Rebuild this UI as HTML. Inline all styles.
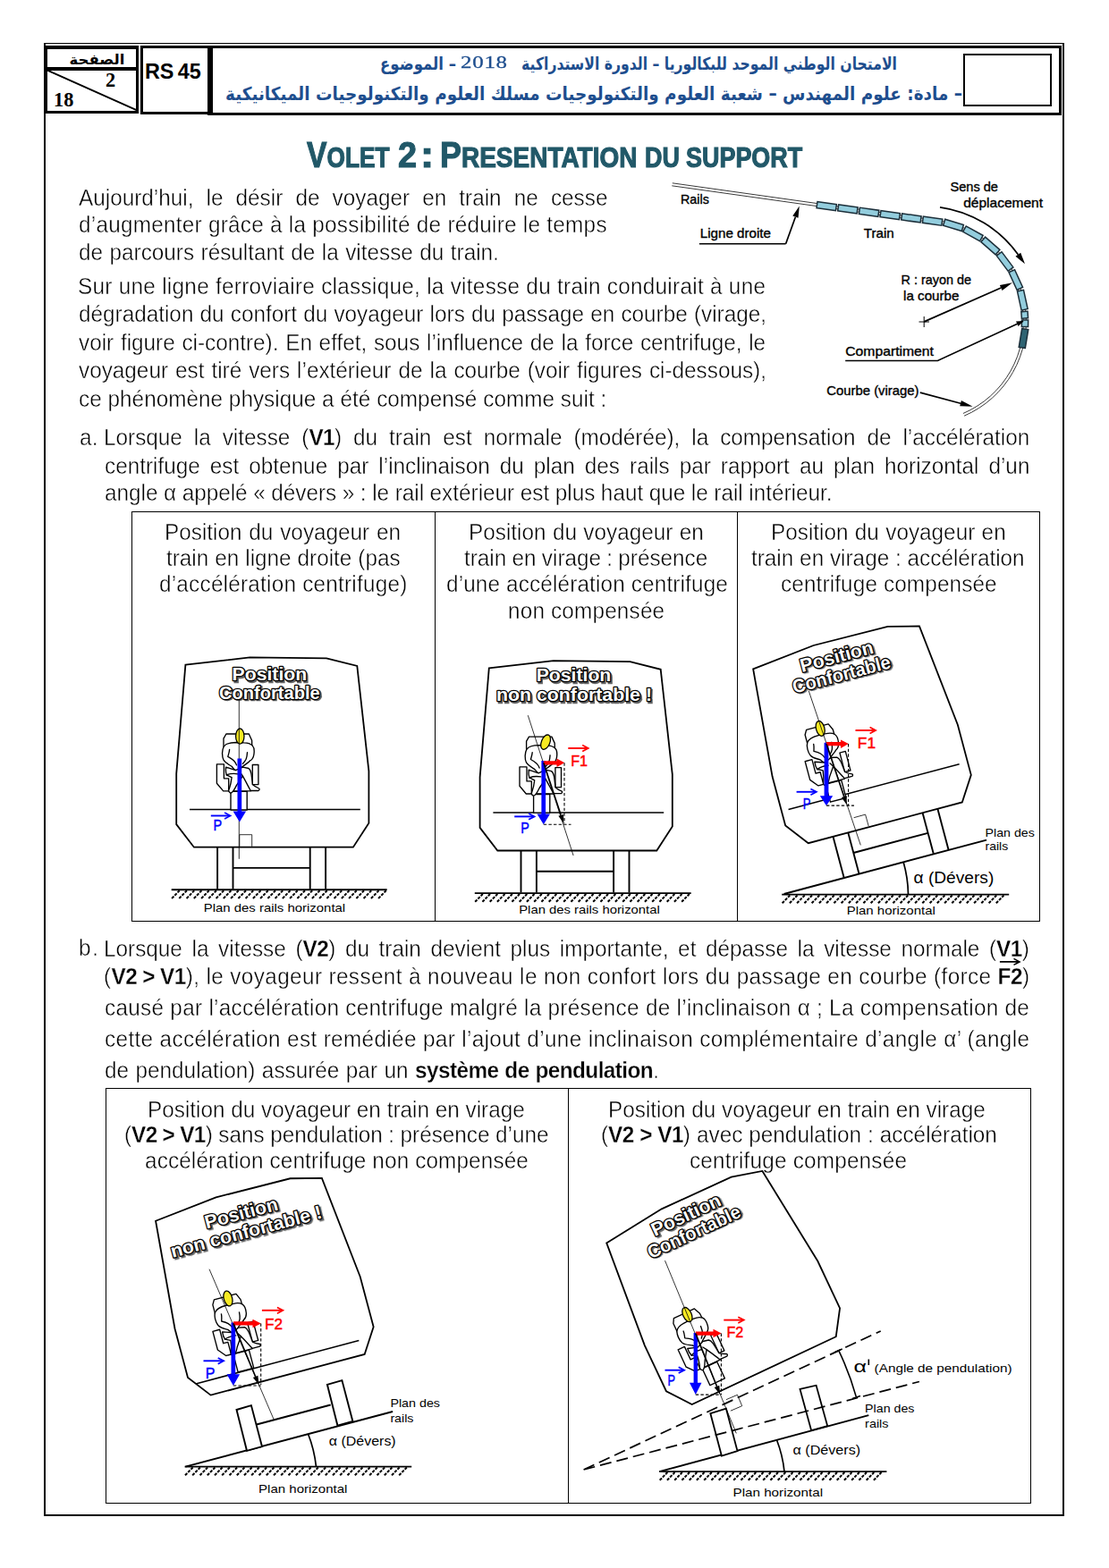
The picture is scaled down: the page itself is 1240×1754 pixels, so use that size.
<!DOCTYPE html>
<html lang="fr"><head><meta charset="utf-8"><title>Volet 2 : Présentation du support</title>
<style>
html,body{margin:0;padding:0;background:#fff}
body{width:1240px;height:1754px;position:relative;overflow:hidden;font-family:"Liberation Sans",sans-serif;color:#000}
.t{position:absolute;white-space:nowrap;line-height:30px;height:30px;color:#000;-webkit-text-stroke:0.45px #fff;transform-origin:0 0;transform:scaleX(0.935)}
.t b{font-weight:700;letter-spacing:-0.6px;-webkit-text-stroke:0.3px #fff}
.bx{position:absolute;box-sizing:border-box;border:solid #000}
.ln{position:absolute;background:#000}
svg{position:absolute;left:0;top:0;overflow:visible}
svg text{font-family:"Liberation Sans",sans-serif}
svg text.ar{font-family:"DejaVu Sans","Liberation Sans",sans-serif;font-weight:700;direction:rtl;unicode-bidi:embed}
.tw{position:absolute;top:150px;height:44px;line-height:44px;white-space:nowrap;color:#215868;font-weight:700;font-size:31.6px;-webkit-text-stroke:1.1px #215868;transform-origin:0 0}.tw .C{font-size:40.5px}</style></head>
<body>
<div class="bx" style="left:48.5px;top:48px;width:1141.5px;height:1648.3px;border-width:1.6px 2px 2.3px 2px"></div>
<!-- header boxes -->
<div class="bx" style="left:48.7px;top:50.6px;width:106.6px;height:28.3px;border-width:4px 3.4px 3.7px 4.5px"></div>
<div class="bx" style="left:48.7px;top:75.2px;width:106.6px;height:51.6px;border-width:3.7px 3.4px 3.9px 4.5px"></div>
<div class="bx" style="left:156.5px;top:50.6px;width:81px;height:77.5px;border-width:3.3px 5.2px 3.3px 3.2px"></div>
<div class="bx" style="left:232.3px;top:50.5px;width:954.6px;height:78px;border-width:3.2px 3.6px 3.3px 5.2px"></div>
<div class="bx" style="left:1077.3px;top:60px;width:98.7px;height:59.1px;border-width:2px"></div>
<div style="position:absolute;left:161.9px;top:67.9px;font-weight:700;font-size:23.4px;line-height:24px;letter-spacing:-0.1px;word-spacing:-1.8px;white-space:nowrap">RS 45</div>
<div style="position:absolute;left:117.9px;top:77.5px;font-family:'Liberation Serif',serif;font-weight:700;font-size:22.3px;line-height:24px;white-space:nowrap">2</div>
<div style="position:absolute;left:60px;top:99.5px;font-family:'Liberation Serif',serif;font-weight:700;font-size:22.3px;line-height:24px;white-space:nowrap">18</div>
<div style="position:absolute;left:514.8px;top:57.6px;font-family:'Liberation Serif',serif;font-size:19.6px;line-height:24px;letter-spacing:0.6px;color:#1e4e8e;white-space:nowrap;transform-origin:0 0;transform:scaleX(1.27);-webkit-text-stroke:0.3px #1e4e8e">2018</div>

<div class="tw" style="left:343.30px;top:150.5px;transform:scaleX(0.8312)"><span class="C">V</span>OLET</div><div class="tw" style="left:444.90px;top:150.5px;transform:scaleX(0.9351)"><span class="C">2</span></div><div class="tw" style="left:470.30px;top:150.5px;transform:scaleX(1.1250)"><span class="C">:</span></div><div class="tw" style="left:491.70px;top:150.5px;transform:scaleX(0.8860)"><span class="C">P</span>RESENTATION</div><div class="tw" style="left:720.90px;top:153.6px;transform:scaleX(0.8525)">DU</div><div class="tw" style="left:767.30px;top:153.6px;transform:scaleX(0.8526)">SUPPORT</div>
<div class="t" style="left:88.0px;top:206.09px;font-size:26.0px;letter-spacing:0.000px;word-spacing:7.885px">Aujourd’hui, le désir de voyager en train ne cesse</div>
<div class="t" style="left:88.0px;top:236.29px;font-size:26.0px;letter-spacing:0.273px;word-spacing:0.000px">d’augmenter grâce à la possibilité de réduire le temps</div>
<div class="t" style="left:88.0px;top:266.79px;font-size:26.0px;letter-spacing:0.000px;word-spacing:0.768px">de parcours résultant de la vitesse du train.</div>
<div class="t" style="left:87.1px;top:304.99px;font-size:26.0px;letter-spacing:0.302px;word-spacing:0.000px">Sur une ligne ferroviaire classique, la vitesse du train conduirait à une</div>
<div class="t" style="left:88.0px;top:336.49px;font-size:26.0px;letter-spacing:0.000px;word-spacing:0.434px">dégradation du confort du voyageur lors du passage en courbe (virage,</div>
<div class="t" style="left:88.0px;top:368.19px;font-size:26.0px;letter-spacing:0.000px;word-spacing:1.019px">voir figure ci-contre). En effet, sous l’influence de la force centrifuge, le</div>
<div class="t" style="left:88.0px;top:399.19px;font-size:26.0px;letter-spacing:0.000px;word-spacing:1.320px">voyageur est tiré vers l’extérieur de la courbe (voir figures ci-dessous),</div>
<div class="t" style="left:88.0px;top:430.69px;font-size:26.0px;letter-spacing:0.000px;word-spacing:0.150px">ce phénomène physique a été compensé comme suit :</div>
<div class="t" style="left:88.5px;top:474.49px;font-size:26.0px;letter-spacing:0.280px;word-spacing:0.000px">a.</div>
<div class="t" style="left:115.9px;top:474.49px;font-size:26.0px;letter-spacing:0.000px;word-spacing:6.625px">Lorsque la vitesse (<b>V1</b>) du train est normale (modérée), la compensation de l’accélération</div>
<div class="t" style="left:116.8px;top:505.99px;font-size:26.0px;letter-spacing:0.000px;word-spacing:4.587px">centrifuge est obtenue par l’inclinaison du plan des rails par rapport au plan horizontal d’un</div>
<div class="t" style="left:116.8px;top:535.89px;font-size:26.0px;letter-spacing:0.000px;word-spacing:-0.216px">angle α appelé « dévers » : le rail extérieur est plus haut que le rail intérieur.</div>
<div class="t" style="left:88.4px;top:1045.39px;font-size:26.0px;letter-spacing:1.842px;word-spacing:0.000px">b.</div>
<div class="t" style="left:115.9px;top:1045.99px;font-size:26.0px;letter-spacing:0.000px;word-spacing:4.176px">Lorsque la vitesse (<b>V2</b>) du train devient plus importante, et dépasse la vitesse normale (<b>V1</b>)</div>
<div class="t" style="left:115.9px;top:1077.19px;font-size:26.0px;letter-spacing:0.407px;word-spacing:0.000px">(<b>V2 &gt; V1</b>), le voyageur ressent à nouveau le non confort lors du passage en courbe (force <b>F2</b>)</div>
<div class="t" style="left:116.8px;top:1111.99px;font-size:26.0px;letter-spacing:0.306px;word-spacing:0.000px">causé par l’accélération centrifuge malgré la présence de l’inclinaison α ; La compensation de</div>
<div class="t" style="left:116.8px;top:1147.09px;font-size:26.0px;letter-spacing:0.379px;word-spacing:0.000px">cette accélération est remédiée par l’ajout d’une inclinaison complémentaire d’angle α’ (angle</div>
<div class="t" style="left:116.8px;top:1181.89px;font-size:26.0px;letter-spacing:0.000px;word-spacing:0.800px">de pendulation) assurée par un <b>système de pendulation</b>.</div>
<div class="t" style="left:184.2px;top:579.89px;font-size:26.0px;letter-spacing:0.000px;word-spacing:1.164px">Position du voyageur en</div>
<div class="t" style="left:185.8px;top:609.19px;font-size:26.0px;letter-spacing:0.000px;word-spacing:0.219px">train en ligne droite (pas</div>
<div class="t" style="left:178.4px;top:638.39px;font-size:26.0px;letter-spacing:0.241px;word-spacing:0.000px">d’accélération centrifuge)</div>
<div class="t" style="left:524.0px;top:579.89px;font-size:26.0px;letter-spacing:0.000px;word-spacing:0.707px">Position du voyageur en</div>
<div class="t" style="left:519.1px;top:609.19px;font-size:26.0px;letter-spacing:0.000px;word-spacing:-0.540px">train en virage : présence</div>
<div class="t" style="left:498.6px;top:638.39px;font-size:26.0px;letter-spacing:0.153px;word-spacing:0.000px">d’une accélération centrifuge</div>
<div class="t" style="left:568.2px;top:667.59px;font-size:26.0px;letter-spacing:0.187px;word-spacing:0.000px">non compensée</div>
<div class="t" style="left:862.2px;top:579.89px;font-size:26.0px;letter-spacing:0.000px;word-spacing:0.650px">Position du voyageur en</div>
<div class="t" style="left:840.3px;top:609.19px;font-size:26.0px;letter-spacing:0.000px;word-spacing:0.066px">train en virage : accélération</div>
<div class="t" style="left:873.1px;top:638.39px;font-size:26.0px;letter-spacing:0.137px;word-spacing:0.000px">centrifuge compensée</div>
<div class="t" style="left:164.6px;top:1225.59px;font-size:26.0px;letter-spacing:0.000px;word-spacing:0.021px">Position du voyageur en train en virage</div>
<div class="t" style="left:139.2px;top:1254.19px;font-size:26.0px;letter-spacing:0.000px;word-spacing:-0.315px">(<b>V2 &gt; V1</b>) sans pendulation : présence d’une</div>
<div class="t" style="left:161.8px;top:1282.89px;font-size:26.0px;letter-spacing:0.134px;word-spacing:0.000px">accélération centrifuge non compensée</div>
<div class="t" style="left:680.1px;top:1225.59px;font-size:26.0px;letter-spacing:0.000px;word-spacing:0.021px">Position du voyageur en train en virage</div>
<div class="t" style="left:672.4px;top:1254.19px;font-size:26.0px;letter-spacing:0.000px;word-spacing:0.265px">(<b>V2 &gt; V1</b>) avec pendulation : accélération</div>
<div class="t" style="left:770.8px;top:1282.89px;font-size:26.0px;letter-spacing:0.209px;word-spacing:0.000px">centrifuge compensée</div>
<!-- table 1 -->
<div class="bx" style="left:147.2px;top:572.2px;width:1016.3px;height:459px;border-width:1.3px"></div>
<div class="ln" style="left:485.8px;top:572.2px;width:1.3px;height:459px"></div>
<div class="ln" style="left:824.1px;top:572.2px;width:1.3px;height:459px"></div>
<!-- table 2 -->
<div class="bx" style="left:117.8px;top:1217.3px;width:1035.2px;height:465.2px;border-width:1.3px"></div>
<div class="ln" style="left:635px;top:1217.3px;width:1.3px;height:465.2px"></div>

<svg width="1240" height="1754" viewBox="0 0 1240 1754">
<defs>
<pattern id="hatch" width="6.95" height="20" patternUnits="userSpaceOnUse">
<path d="M0.6,9.3 L6.2,0.6" stroke="#000" stroke-width="1.9" fill="none"/>
</pattern>
<filter id="sh" x="-10%" y="-20%" width="125%" height="150%"><feGaussianBlur stdDeviation="0.7"/></filter>
<g id="carbody" fill="#fff" stroke="#000" stroke-width="1.8" stroke-linejoin="miter">
<path d="M-35.7,-251.1 L36.3,-259.3 L121.9,-258.4 L156.2,-249.7 L169.3,-132.1 L169.3,-74 L151.8,-47 L-26.2,-47 L-45.9,-72.6 L-45.9,-129.2 Z"/>
</g>
<g id="legs" fill="#fff" stroke="#000" stroke-width="1.9">
<path d="M0,-47 V0 M17.4,-47 V0 M103.6,-47 V0 M121,-47 V0 M17.4,-23.8 H103.6" fill="none"/>
</g>
<g id="person" fill="#fff" stroke="#000" stroke-width="1.35" stroke-linejoin="round" stroke-linecap="round">
<path d="M-9.7,0 V-20.6 H8.5 V0 Z"/>
<path d="M-17.7,-60 V-79.9 L-14.8,-85 H10.6 L13.9,-77.7 L14.3,-60 Z"/>
<path d="M-25.3,-51.2 H-17.3 V-35.2 H-12 V-21.1 H-18 L-25.3,-29.8 Z"/>
<path d="M14.6,-50.5 H21.2 V-28.4 H14.6 Z"/>
<path d="M-11.5,-21.1 H12.5" fill="none"/>
<path d="M-3.5,-75.5 C-9,-75.5 -15,-74.5 -17.3,-71 C-19.6,-67.5 -19.8,-60 -17.7,-55.9 C-15.5,-52 -11,-50.5 -8.6,-48.7 C-7,-47.3 -6.5,-45 -4.2,-44.3 L-1,-43.5 L3.7,-48.7 C7,-51 10,-53 11.5,-54.8 C14,-56 15.6,-58 16.2,-62 C16.8,-66 16.4,-70 14.6,-71.9 C12,-74.5 8,-75.2 5.2,-75.2 Z"/>
<path d="M-11.1,-67.5 C-11.3,-64 -12.5,-61.5 -12.9,-59.6 C-10,-58 -8,-56.8 -6.4,-55.2 C-4.8,-53.5 -3.8,-51.8 -3.2,-50.1" fill="none"/>
<path d="M8.8,-64.3 C8.6,-61 8.2,-58.6 7.4,-56.7 C6.4,-54.6 5,-53 3.7,-51.6" fill="none"/>
<path d="M-15.1,-47.9 C-15.6,-44 -15,-41 -14.4,-39.2 L-8.6,-36.3 C-9.2,-31 -10.5,-26 -11.5,-23.3 C-12.6,-21.4 -11.4,-19.2 -9.7,-18.9 C-7.5,-19.3 -5.4,-23 -3.2,-27.6 L3.7,-37.8 C6.5,-33 9.5,-27 12.5,-21.5 L21.2,-21.5 C22.6,-22.2 22.6,-23.6 21.9,-24 C19,-25.2 16.6,-26.6 14.6,-28.4 C14.2,-33 13.8,-37.5 13.2,-40.7 C12.6,-43.6 11.6,-45.6 10.3,-46.5 L3.7,-47.9 L-4.2,-44.3 Z"/>
<path d="M-14.4,-39.2 C-11,-40.5 -6,-41 -1.5,-40.2 M3.7,-37.8 L1,-42" fill="none"/>
</g>
<g id="head" stroke="#000" stroke-width="1.3" fill="#f7ea23"><ellipse cx="0.6" cy="-82.4" rx="4.7" ry="8.6"/></g>
</defs>
<g fill="#1e4e8e">
<text class="ar" x="793" y="77.5" font-size="19.5" text-anchor="middle" textLength="420" lengthAdjust="spacingAndGlyphs">الامتحان الوطني الموحد للبكالوريا – الدورة الاستدراكية</text>
<text class="ar" x="467.5" y="77.5" font-size="19.5" text-anchor="middle" textLength="85" lengthAdjust="spacingAndGlyphs">– الموضوع</text>
<text class="ar" x="664" y="112" font-size="20.5" text-anchor="middle" textLength="824" lengthAdjust="spacingAndGlyphs">– مادة: علوم المهندس – شعبة العلوم والتكنولوجيات مسلك العلوم والتكنولوجيات الميكانيكية</text>
</g>
<text class="ar" x="108.5" y="71.5" font-size="15.5" fill="#000" text-anchor="middle" textLength="62" lengthAdjust="spacingAndGlyphs">الصفحة</text>
<line x1="53" y1="78.6" x2="152.6" y2="123.2" stroke="#000" stroke-width="1.9"/>
<path d="M1117.9,1075.9 H1139 M1133.5,1072.4 L1140,1075.9 L1133.5,1079.4" stroke="#000" stroke-width="1.6" fill="none"/>
<!-- fig 1 -->
<path d="M751.3,207.8 L1048.5,249.6 A111.5,111.5 0 0 1 1076.9,462.5 M751.8,204.8 L1048.9,246.6 A114.5,114.5 0 0 1 1078.1,465.2" stroke="#222" stroke-width="0.9" fill="none"/>
<rect x="-10.8" y="-3.6" width="21.6" height="7.2" fill="#93cddd" stroke="#1c2f3a" stroke-width="1.5" transform="translate(924.2 230.6) rotate(8)"/>
<rect x="-10.8" y="-3.6" width="21.6" height="7.2" fill="#93cddd" stroke="#1c2f3a" stroke-width="1.5" transform="translate(947.9 233.9) rotate(8)"/>
<rect x="-10.8" y="-3.6" width="21.6" height="7.2" fill="#93cddd" stroke="#1c2f3a" stroke-width="1.5" transform="translate(971.6 237.3) rotate(8)"/>
<rect x="-10.8" y="-3.6" width="21.6" height="7.2" fill="#93cddd" stroke="#1c2f3a" stroke-width="1.5" transform="translate(995.2 240.6) rotate(8)"/>
<rect x="-10.8" y="-3.6" width="21.6" height="7.2" fill="#93cddd" stroke="#1c2f3a" stroke-width="1.5" transform="translate(1018.9 243.9) rotate(8)"/>
<rect x="-10.8" y="-3.6" width="21.6" height="7.2" fill="#93cddd" stroke="#1c2f3a" stroke-width="1.5" transform="translate(1042.6 247.2) rotate(8)"/>
<rect x="-10.8" y="-3.6" width="21.6" height="7.2" fill="#93cddd" stroke="#1c2f3a" stroke-width="1.5" transform="translate(1066 251.9) rotate(17)"/>
<rect x="-10.8" y="-3.6" width="21.6" height="7.2" fill="#93cddd" stroke="#1c2f3a" stroke-width="1.5" transform="translate(1087.9 261.3) rotate(29.1)"/>
<rect x="-10.8" y="-3.6" width="21.6" height="7.2" fill="#93cddd" stroke="#1c2f3a" stroke-width="1.5" transform="translate(1107.4 275) rotate(41.2)"/>
<rect x="-10.8" y="-3.6" width="21.6" height="7.2" fill="#93cddd" stroke="#1c2f3a" stroke-width="1.5" transform="translate(1123.6 292.5) rotate(53.3)"/>
<rect x="-10.8" y="-3.6" width="21.6" height="7.2" fill="#93cddd" stroke="#1c2f3a" stroke-width="1.5" transform="translate(1135.8 313) rotate(65.4)"/>
<rect x="-10.8" y="-3.6" width="21.6" height="7.2" fill="#93cddd" stroke="#1c2f3a" stroke-width="1.5" transform="translate(1143.3 335.7) rotate(77.6)"/>
<rect x="-3.8" y="-3.6" width="7.5" height="7.2" fill="#93cddd" stroke="#1c2f3a" stroke-width="1.5" transform="translate(1145.7 352.3) rotate(86.1)"/>
<rect x="-3.8" y="-3.6" width="7.5" height="7.2" fill="#93cddd" stroke="#1c2f3a" stroke-width="1.5" transform="translate(1146 361.8) rotate(90.9)"/>
<rect x="-10.5" y="-3.6" width="21" height="7.2" fill="#2f6473" stroke="#1c2f3a" stroke-width="1.5" transform="translate(1144.5 378.5) rotate(99.4)"/>
<text stroke="#000" stroke-width="0.35" x="761" y="228.3" font-size="14.3" fill="#000" font-weight="400" textLength="31.8" lengthAdjust="spacingAndGlyphs">Rails</text>
<text stroke="#000" stroke-width="0.35" x="782.8" y="266.2" font-size="14.3" fill="#000" font-weight="400" textLength="79.2" lengthAdjust="spacingAndGlyphs">Ligne droite</text>
<text stroke="#000" stroke-width="0.35" x="965.7" y="266.2" font-size="14.3" fill="#000" font-weight="400" textLength="34" lengthAdjust="spacingAndGlyphs">Train</text>
<text stroke="#000" stroke-width="0.35" x="1062.4" y="214" font-size="14.3" fill="#000" font-weight="400" textLength="53.6" lengthAdjust="spacingAndGlyphs">Sens de</text>
<text stroke="#000" stroke-width="0.35" x="1077.2" y="232.2" font-size="14.3" fill="#000" font-weight="400" textLength="88.8" lengthAdjust="spacingAndGlyphs">déplacement</text>
<text stroke="#000" stroke-width="0.35" x="1007.5" y="317.6" font-size="14.3" fill="#000" font-weight="400" textLength="78.4" lengthAdjust="spacingAndGlyphs">R : rayon de</text>
<text stroke="#000" stroke-width="0.35" x="1010.1" y="335.9" font-size="14.3" fill="#000" font-weight="400" textLength="62.3" lengthAdjust="spacingAndGlyphs">la courbe</text>
<text stroke="#000" stroke-width="0.35" x="945.2" y="398.2" font-size="14.3" fill="#000" font-weight="400" textLength="98.8" lengthAdjust="spacingAndGlyphs">Compartiment</text>
<text stroke="#000" stroke-width="0.35" x="924.3" y="441.7" font-size="14.3" fill="#000" font-weight="400" textLength="103.2" lengthAdjust="spacingAndGlyphs">Courbe (virage)</text>
<path d="M781.9,272.8 H878.6" stroke="#000" stroke-width="1.5" fill="none"/>
<path d="M878.6,272.8 L889.4,242.7" stroke="#000" stroke-width="1.7" fill="none"/><path d="M893.8,230.5 L892.5,243.8 L886.3,241.6 Z" fill="#000"/>
<path d="M1051,231.8 A129.5,129.5 0 0 1 1138.4,284.8" stroke="#000" stroke-width="1.7" fill="none"/>
<path d="M1138.4,284.8 L1138.4,284.7" stroke="#000" stroke-width="1.7" fill="none"/><path d="M1146,295.2 L1135.5,286.7 L1141.2,282.7 Z" fill="#000"/>
<path d="M1033.2,359.9 L1119.2,322" stroke="#000" stroke-width="1.7" fill="none"/><path d="M1132,316.3 L1120.5,324.9 L1117.9,319 Z" fill="#000"/>
<path d="M1027.5,360 H1039 M1033.2,354 V366" stroke="#000" stroke-width="1" fill="none"/>
<path d="M945.2,403.4 H1048.4 L1144,359.2" stroke="#000" stroke-width="1.5" fill="none"/>
<path d="M1144.5,359 L1136,359.6 L1138.6,365 Z" fill="#000"/>
<path d="M1028.8,439.1 L1074.1,451.2" stroke="#000" stroke-width="1.7" fill="none"/><path d="M1087.6,454.8 L1073.2,454.3 L1074.9,448 Z" fill="#000"/>
<!-- fig 2a -->
<g transform="translate(243.1 994.7)"><use href="#carbody"/><use href="#legs"/><path d="M-31.1,-89.1 H159.7" stroke="#000" stroke-width="1.5"/><path d="M24.7,-47.9 V-61 H38.6 V-47.9" fill="none" stroke="#000" stroke-width="0.8"/></g>
<path d="M192.1,1005l8.6,-8.8M200.3,1005l8.6,-8.8M208.6,1005l8.6,-8.8M216.8,1005l8.6,-8.8M225.1,1005l8.6,-8.8M233.3,1005l8.6,-8.8M241.6,1005l8.6,-8.8M249.8,1005l8.6,-8.8M258.1,1005l8.6,-8.8M266.4,1005l8.6,-8.8M274.6,1005l8.6,-8.8M282.9,1005l8.6,-8.8M291.1,1005l8.6,-8.8M299.4,1005l8.6,-8.8M307.6,1005l8.6,-8.8M315.9,1005l8.6,-8.8M324.1,1005l8.6,-8.8M332.4,1005l8.6,-8.8M340.6,1005l8.6,-8.8M348.9,1005l8.6,-8.8M357.1,1005l8.6,-8.8M365.4,1005l8.6,-8.8M373.6,1005l8.6,-8.8M381.9,1005l8.6,-8.8M390.1,1005l8.6,-8.8M398.4,1005l8.6,-8.8M406.6,1005l8.6,-8.8M414.9,1005l8.6,-8.8M423.1,1005l8.6,-8.8" stroke="#000" stroke-width="2.0" stroke-dasharray="3.3 1.3" fill="none"/><path d="M191.7,995.3 H432.7" stroke="#000" stroke-width="1.9"/>
<g transform="translate(267.7 906)"><use href="#person"/><use href="#head"/></g>
<path d="M267.3,783 V960.8" stroke="#000" stroke-width="0.8"/>
<path d="M265.5,848.5 H270.2 V907.4 H275.1 L267.9,919.4 L260.6,907.4 H265.5 Z" fill="#0000ff"/>
<text x="259.6" y="761" font-size="21" font-weight="700" textLength="83.6" lengthAdjust="spacingAndGlyphs" transform="translate(1.6 1.6)" fill="#333" stroke="#333" stroke-width="2.4" filter="url(#sh)" opacity="0.75">Position</text><text x="259.6" y="761" font-size="21" font-weight="700" textLength="83.6" lengthAdjust="spacingAndGlyphs" fill="#fff" stroke="#000" stroke-width="2.6" stroke-linejoin="round" paint-order="stroke fill">Position</text>
<text x="245" y="781.9" font-size="21" font-weight="700" textLength="112.7" lengthAdjust="spacingAndGlyphs" transform="translate(1.6 1.6)" fill="#333" stroke="#333" stroke-width="2.4" filter="url(#sh)" opacity="0.75">Confortable</text><text x="245" y="781.9" font-size="21" font-weight="700" textLength="112.7" lengthAdjust="spacingAndGlyphs" fill="#fff" stroke="#000" stroke-width="2.6" stroke-linejoin="round" paint-order="stroke fill">Confortable</text>
<text stroke="#0000ff" stroke-width="0.45" x="238.5" y="929.4" font-size="16.5" fill="#0000ff" font-weight="400" textLength="9.7" lengthAdjust="spacingAndGlyphs">P</text><path d="M235.8,912.5 H256.6" stroke="#0000ff" stroke-width="1.9" fill="none"/><path d="M251.1,909.1 L257.6,912.5 L251.1,915.9" stroke="#0000ff" stroke-width="1.7" fill="none" stroke-linejoin="miter"/>
<text x="227.7" y="1020.3" font-size="13.2" fill="#000" font-weight="400" textLength="158.5" lengthAdjust="spacingAndGlyphs">Plan des rails horizontal</text>
<!-- fig 2b -->
<g transform="translate(582.5 998.5)"><use href="#carbody"/><use href="#legs"/><path d="M-31.1,-89.4 H159.7" stroke="#000" stroke-width="1.5"/></g>
<path d="M531.2,1008.8l8.6,-8.8M539.4,1008.8l8.6,-8.8M547.7,1008.8l8.6,-8.8M555.9,1008.8l8.6,-8.8M564.2,1008.8l8.6,-8.8M572.4,1008.8l8.6,-8.8M580.7,1008.8l8.6,-8.8M588.9,1008.8l8.6,-8.8M597.2,1008.8l8.6,-8.8M605.4,1008.8l8.6,-8.8M613.7,1008.8l8.6,-8.8M621.9,1008.8l8.6,-8.8M630.2,1008.8l8.6,-8.8M638.4,1008.8l8.6,-8.8M646.7,1008.8l8.6,-8.8M654.9,1008.8l8.6,-8.8M663.2,1008.8l8.6,-8.8M671.4,1008.8l8.6,-8.8M679.7,1008.8l8.6,-8.8M687.9,1008.8l8.6,-8.8M696.2,1008.8l8.6,-8.8M704.4,1008.8l8.6,-8.8M712.7,1008.8l8.6,-8.8M720.9,1008.8l8.6,-8.8M729.2,1008.8l8.6,-8.8M737.4,1008.8l8.6,-8.8M745.7,1008.8l8.6,-8.8M753.9,1008.8l8.6,-8.8M762.2,1008.8l8.6,-8.8" stroke="#000" stroke-width="2.0" stroke-dasharray="3.3 1.3" fill="none"/><path d="M530.8,999.1 H772.7" stroke="#000" stroke-width="1.9"/>
<g transform="translate(606.3 909.1)"><use href="#person"/><g transform="translate(3.2 3.5) rotate(22 0.6 -82.4)"><use href="#head"/></g></g>
<path d="M590.3,800.2 L641.1,957" stroke="#000" stroke-width="0.8"/>
<path d="M605.4,851 H610.1 V910.5 H615 L607.8,922.3 L600.5,910.5 H605.4 Z" fill="#0000ff"/>
<path d="M607.8,851.2 V855.4 H622.5 V858 L631.3,853.3 L622.5,848.5 V851.2 Z" fill="#ff0000"/>
<path d="M607.8,853.3 L627.2,911.8" stroke="#000" stroke-width="1.6" fill="none"/><path d="M630.4,921.3 L624.4,912.8 L630.1,910.9 Z" fill="#000"/>
<path d="M631,853.3 V921.3 M607.8,922.2 H638.5" stroke="#000" stroke-width="1.1" stroke-dasharray="3.4 2.2" fill="none"/>
<text x="599.7" y="762.4" font-size="21" font-weight="700" textLength="83.6" lengthAdjust="spacingAndGlyphs" transform="translate(1.6 1.6)" fill="#333" stroke="#333" stroke-width="2.4" filter="url(#sh)" opacity="0.75">Position</text><text x="599.7" y="762.4" font-size="21" font-weight="700" textLength="83.6" lengthAdjust="spacingAndGlyphs" fill="#fff" stroke="#000" stroke-width="2.6" stroke-linejoin="round" paint-order="stroke fill">Position</text>
<text x="555" y="784.2" font-size="21" font-weight="700" textLength="174" lengthAdjust="spacingAndGlyphs" transform="translate(1.6 1.6)" fill="#333" stroke="#333" stroke-width="2.4" filter="url(#sh)" opacity="0.75">non confortable !</text><text x="555" y="784.2" font-size="21" font-weight="700" textLength="174" lengthAdjust="spacingAndGlyphs" fill="#fff" stroke="#000" stroke-width="2.6" stroke-linejoin="round" paint-order="stroke fill">non confortable !</text>
<text stroke="#0000ff" stroke-width="0.45" x="582.2" y="932.3" font-size="16.5" fill="#0000ff" font-weight="400" textLength="9.6" lengthAdjust="spacingAndGlyphs">P</text><path d="M575.2,913.4 H596.6" stroke="#0000ff" stroke-width="1.9" fill="none"/><path d="M591.1,910 L597.6,913.4 L591.1,916.8" stroke="#0000ff" stroke-width="1.7" fill="none" stroke-linejoin="miter"/>
<text stroke="#ff0000" stroke-width="0.45" x="638.2" y="856.8" font-size="16.5" fill="#ff0000" font-weight="400" textLength="18.9" lengthAdjust="spacingAndGlyphs">F1</text><path d="M635.3,837 H656.7" stroke="#ff0000" stroke-width="1.9" fill="none"/><path d="M651.2,833.6 L657.7,837 L651.2,840.4" stroke="#ff0000" stroke-width="1.7" fill="none" stroke-linejoin="miter"/>
<text x="580.2" y="1022.3" font-size="13.2" fill="#000" font-weight="400" textLength="157.6" lengthAdjust="spacingAndGlyphs">Plan des rails horizontal</text>
<!-- fig 2c -->
<g transform="translate(943.6 981.5) rotate(-14.9)"><use href="#legs"/></g><g transform="translate(941.2 981.9) rotate(-14.9)"><use href="#carbody"/><path d="M-38,-89.1 H159.7" stroke="#000" stroke-width="1.5"/><text x="16.3" y="-233.7" font-size="21" font-weight="700" textLength="83.6" lengthAdjust="spacingAndGlyphs" transform="translate(1.6 1.6)" fill="#333" stroke="#333" stroke-width="2.4" filter="url(#sh)" opacity="0.75">Position</text><text x="16.3" y="-233.7" font-size="21" font-weight="700" textLength="83.6" lengthAdjust="spacingAndGlyphs" fill="#fff" stroke="#000" stroke-width="2.6" stroke-linejoin="round" paint-order="stroke fill">Position</text><text x="1.8" y="-212.8" font-size="21" font-weight="700" textLength="112.7" lengthAdjust="spacingAndGlyphs" transform="translate(1.6 1.6)" fill="#333" stroke="#333" stroke-width="2.4" filter="url(#sh)" opacity="0.75">Confortable</text><text x="1.8" y="-212.8" font-size="21" font-weight="700" textLength="112.7" lengthAdjust="spacingAndGlyphs" fill="#fff" stroke="#000" stroke-width="2.6" stroke-linejoin="round" paint-order="stroke fill">Confortable</text></g>
<path d="M876.6,1000 L1103.1,939.6" stroke="#000" stroke-width="1.9"/>
<path d="M874.6,1010.3l8.6,-8.8M882.9,1010.3l8.6,-8.8M891.1,1010.3l8.6,-8.8M899.4,1010.3l8.6,-8.8M907.6,1010.3l8.6,-8.8M915.9,1010.3l8.6,-8.8M924.1,1010.3l8.6,-8.8M932.4,1010.3l8.6,-8.8M940.6,1010.3l8.6,-8.8M948.9,1010.3l8.6,-8.8M957.1,1010.3l8.6,-8.8M965.4,1010.3l8.6,-8.8M973.6,1010.3l8.6,-8.8M981.9,1010.3l8.6,-8.8M990.1,1010.3l8.6,-8.8M998.4,1010.3l8.6,-8.8M1006.6,1010.3l8.6,-8.8M1014.9,1010.3l8.6,-8.8M1023.1,1010.3l8.6,-8.8M1031.3,1010.3l8.6,-8.8M1039.6,1010.3l8.6,-8.8M1047.8,1010.3l8.6,-8.8M1056.1,1010.3l8.6,-8.8M1064.3,1010.3l8.6,-8.8M1072.6,1010.3l8.6,-8.8M1080.8,1010.3l8.6,-8.8M1089.1,1010.3l8.6,-8.8M1097.3,1010.3l8.6,-8.8M1105.6,1010.3l8.6,-8.8M1113.8,1010.3l8.6,-8.8" stroke="#000" stroke-width="2.0" stroke-dasharray="3.3 1.3" fill="none"/><path d="M874.2,1000.6 H1128.2" stroke="#000" stroke-width="1.9"/>
<g transform="translate(937.8 894.7) rotate(-14.9)"><use href="#person"/><use href="#head"/></g>
<path d="M904.2,772.6 L962.3,945.4" stroke="#000" stroke-width="0.8"/>
<path d="M954.6,914.7 L967.6,911.1 L971.2,924.1" stroke="#000" stroke-width="0.8" fill="none"/>
<path d="M921.6,830.7 H926.4 V890.2 H931.2 L924,901.2 L916.8,890.2 H921.6 Z" fill="#0000ff"/>
<path d="M924,830 V834.2 H940 V836.9 L948.8,832.1 L940,827.4 V830 Z" fill="#ff0000"/>
<path d="M924,832.1 L943.7,890.9" stroke="#000" stroke-width="1.6" fill="none"/><path d="M946.9,900.4 L940.9,891.9 L946.6,890 Z" fill="#000"/>
<path d="M948.6,832.1 V901 M924,901.1 H955" stroke="#000" stroke-width="1.1" stroke-dasharray="3.4 2.2" fill="none"/>
<text stroke="#0000ff" stroke-width="0.45" x="897.8" y="904.7" font-size="16.5" fill="#0000ff" font-weight="400" textLength="8.7" lengthAdjust="spacingAndGlyphs">P</text><path d="M890.6,885.8 H911.9" stroke="#0000ff" stroke-width="1.9" fill="none"/><path d="M906.4,882.4 L912.9,885.8 L906.4,889.2" stroke="#0000ff" stroke-width="1.7" fill="none" stroke-linejoin="miter"/>
<text stroke="#ff0000" stroke-width="0.45" x="958.8" y="836.5" font-size="16.5" fill="#ff0000" font-weight="400" textLength="20.3" lengthAdjust="spacingAndGlyphs">F1</text><path d="M956.5,817 H978.1" stroke="#ff0000" stroke-width="1.9" fill="none"/><path d="M972.6,813.6 L979.1,817 L972.6,820.4" stroke="#ff0000" stroke-width="1.7" fill="none" stroke-linejoin="miter"/>
<path d="M1010.2,964.5 A138,138 0 0 1 1015.5,1000" stroke="#000" stroke-width="1.7" fill="none"/>
<text x="1021.5" y="987.8" font-size="17.5" fill="#000" font-weight="400" textLength="89.8" lengthAdjust="spacingAndGlyphs">α (Dévers)</text>
<text x="1101.6" y="935.8" font-size="13.2" fill="#000" font-weight="400" textLength="55.2" lengthAdjust="spacingAndGlyphs">Plan des</text>
<text x="1101.6" y="951.2" font-size="13.2" fill="#000" font-weight="400" textLength="25.6" lengthAdjust="spacingAndGlyphs">rails</text>
<text x="946.7" y="1023.3" font-size="13.2" fill="#000" font-weight="400" textLength="99.2" lengthAdjust="spacingAndGlyphs">Plan horizontal</text>
<!-- fig 3a -->
<path d="M207.4,1640.6 L439.1,1579" stroke="#000" stroke-width="1.9"/>
<g fill="#fff" stroke="#000" stroke-width="1.9" stroke-linejoin="miter"><path d="M264.5,1577 L280.9,1572.1 L293,1618.2 L276,1622.8 Z"/><path d="M365.9,1548.8 L382.4,1544.1 L394.4,1589.9 L377.4,1594.6 Z"/><path d="M286.9,1593.5 L369.7,1571.5" fill="none"/></g>
<path d="M207,1650.3l8.6,-8.8M215.2,1650.3l8.6,-8.8M223.5,1650.3l8.6,-8.8M231.8,1650.3l8.6,-8.8M240,1650.3l8.6,-8.8M248.2,1650.3l8.6,-8.8M256.5,1650.3l8.6,-8.8M264.8,1650.3l8.6,-8.8M273,1650.3l8.6,-8.8M281.2,1650.3l8.6,-8.8M289.5,1650.3l8.6,-8.8M297.8,1650.3l8.6,-8.8M306,1650.3l8.6,-8.8M314.2,1650.3l8.6,-8.8M322.5,1650.3l8.6,-8.8M330.8,1650.3l8.6,-8.8M339,1650.3l8.6,-8.8M347.2,1650.3l8.6,-8.8M355.5,1650.3l8.6,-8.8M363.8,1650.3l8.6,-8.8M372,1650.3l8.6,-8.8M380.2,1650.3l8.6,-8.8M388.5,1650.3l8.6,-8.8M396.8,1650.3l8.6,-8.8M405,1650.3l8.6,-8.8M413.2,1650.3l8.6,-8.8M421.5,1650.3l8.6,-8.8M429.8,1650.3l8.6,-8.8M438,1650.3l8.6,-8.8M446.2,1650.3l8.6,-8.8" stroke="#000" stroke-width="2.0" stroke-dasharray="3.3 1.3" fill="none"/><path d="M206.6,1640.6 H460.2" stroke="#000" stroke-width="1.9"/>
<g transform="translate(273 1599.3) rotate(-14.87)"><use href="#carbody"/><path d="M-39,-63.5 H149.6" stroke="#000" stroke-width="1.5"/><text x="17.2" y="-228" font-size="21" font-weight="700" textLength="83.6" lengthAdjust="spacingAndGlyphs" transform="translate(1.6 1.6)" fill="#333" stroke="#333" stroke-width="2.4" filter="url(#sh)" opacity="0.75">Position</text><text x="17.2" y="-228" font-size="21" font-weight="700" textLength="83.6" lengthAdjust="spacingAndGlyphs" fill="#fff" stroke="#000" stroke-width="2.6" stroke-linejoin="round" paint-order="stroke fill">Position</text><text x="-28" y="-206.5" font-size="21" font-weight="700" textLength="174" lengthAdjust="spacingAndGlyphs" transform="translate(1.6 1.6)" fill="#333" stroke="#333" stroke-width="2.4" filter="url(#sh)" opacity="0.75">non confortable !</text><text x="-28" y="-206.5" font-size="21" font-weight="700" textLength="174" lengthAdjust="spacingAndGlyphs" fill="#fff" stroke="#000" stroke-width="2.6" stroke-linejoin="round" paint-order="stroke fill">non confortable !</text></g>
<g transform="translate(275.5 1532.3) rotate(-14.87)"><use href="#person"/><use href="#head"/></g>
<path d="M234,1419.7 L306.7,1589.1" stroke="#000" stroke-width="0.8"/>
<path d="M258.5,1479.5 H263.2 V1537.2 H268.1 L260.9,1550 L253.6,1537.2 H258.5 Z" fill="#0000ff"/>
<path d="M260.9,1478.3 V1482.5 H282.5 V1485.2 L291.9,1480.4 L282.5,1475.7 V1478.3 Z" fill="#ff0000"/>
<path d="M260.9,1480.4 L285.7,1540" stroke="#000" stroke-width="1.6" fill="none"/><path d="M289.5,1549.2 L282.9,1541.1 L288.4,1538.8 Z" fill="#000"/>
<path d="M291.7,1480.4 V1549 M260.9,1550 H291.7" stroke="#000" stroke-width="1.1" stroke-dasharray="3.4 2.2" fill="none"/>
<text stroke="#0000ff" stroke-width="0.45" x="229.7" y="1541.5" font-size="16.5" fill="#0000ff" font-weight="400" textLength="10.7" lengthAdjust="spacingAndGlyphs">P</text><path d="M227.5,1522.3 H249.2" stroke="#0000ff" stroke-width="1.9" fill="none"/><path d="M243.7,1518.9 L250.2,1522.3 L243.7,1525.7" stroke="#0000ff" stroke-width="1.7" fill="none" stroke-linejoin="miter"/>
<text stroke="#ff0000" stroke-width="0.45" x="295.9" y="1486.8" font-size="16.5" fill="#ff0000" font-weight="400" textLength="20.1" lengthAdjust="spacingAndGlyphs">F2</text><path d="M292.9,1465.8 H315.4" stroke="#ff0000" stroke-width="1.9" fill="none"/><path d="M309.9,1462.4 L316.4,1465.8 L309.9,1469.2" stroke="#ff0000" stroke-width="1.7" fill="none" stroke-linejoin="miter"/>
<path d="M344.5,1604 A142,142 0 0 1 353.5,1640.6" stroke="#000" stroke-width="1.7" fill="none"/>
<text x="367.8" y="1616.5" font-size="14.5" fill="#000" font-weight="400" textLength="74.9" lengthAdjust="spacingAndGlyphs">α (Dévers)</text>
<text x="436.4" y="1574" font-size="13.2" fill="#000" font-weight="400" textLength="55.6" lengthAdjust="spacingAndGlyphs">Plan des</text>
<text x="436.4" y="1590.7" font-size="13.2" fill="#000" font-weight="400" textLength="26" lengthAdjust="spacingAndGlyphs">rails</text>
<text x="289.1" y="1670.3" font-size="13.2" fill="#000" font-weight="400" textLength="99.3" lengthAdjust="spacingAndGlyphs">Plan horizontal</text>
<!-- fig 3b -->
<path d="M737.3,1646.1 L971.3,1583.2" stroke="#000" stroke-width="1.9"/>
<g fill="#fff" stroke="#000" stroke-width="1.8" stroke-linejoin="miter"><path d="M794.3,1581.1 L811.9,1575.7 L824.5,1623.1 L806.9,1628.5 Z"/><path d="M894.5,1553.9 L912.6,1549.7 L925.2,1595 L907.1,1600 Z"/></g>
<path d="M737.7,1655.8l8.6,-8.8M745.9,1655.8l8.6,-8.8M754.2,1655.8l8.6,-8.8M762.4,1655.8l8.6,-8.8M770.7,1655.8l8.6,-8.8M778.9,1655.8l8.6,-8.8M787.2,1655.8l8.6,-8.8M795.4,1655.8l8.6,-8.8M803.7,1655.8l8.6,-8.8M811.9,1655.8l8.6,-8.8M820.2,1655.8l8.6,-8.8M828.4,1655.8l8.6,-8.8M836.7,1655.8l8.6,-8.8M844.9,1655.8l8.6,-8.8M853.2,1655.8l8.6,-8.8M861.4,1655.8l8.6,-8.8M869.7,1655.8l8.6,-8.8M877.9,1655.8l8.6,-8.8M886.2,1655.8l8.6,-8.8M894.4,1655.8l8.6,-8.8M902.7,1655.8l8.6,-8.8M910.9,1655.8l8.6,-8.8M919.2,1655.8l8.6,-8.8M927.4,1655.8l8.6,-8.8M935.7,1655.8l8.6,-8.8M943.9,1655.8l8.6,-8.8M952.2,1655.8l8.6,-8.8M960.4,1655.8l8.6,-8.8M968.7,1655.8l8.6,-8.8M976.9,1655.8l8.6,-8.8" stroke="#000" stroke-width="2.0" stroke-dasharray="3.3 1.3" fill="none"/><path d="M737.3,1646.1 H991.4" stroke="#000" stroke-width="1.9"/>
<g transform="translate(817.4 1602.4) rotate(-25.2)"><use href="#carbody"/><text x="16.2" y="-234.5" font-size="21" font-weight="700" textLength="83.6" lengthAdjust="spacingAndGlyphs" transform="translate(1.6 1.6)" fill="#333" stroke="#333" stroke-width="2.4" filter="url(#sh)" opacity="0.75">Position</text><text x="16.2" y="-234.5" font-size="21" font-weight="700" textLength="83.6" lengthAdjust="spacingAndGlyphs" fill="#fff" stroke="#000" stroke-width="2.6" stroke-linejoin="round" paint-order="stroke fill">Position</text><text x="1.6" y="-213.5" font-size="21" font-weight="700" textLength="112.7" lengthAdjust="spacingAndGlyphs" transform="translate(1.6 1.6)" fill="#333" stroke="#333" stroke-width="2.4" filter="url(#sh)" opacity="0.75">Confortable</text><text x="1.6" y="-213.5" font-size="21" font-weight="700" textLength="112.7" lengthAdjust="spacingAndGlyphs" fill="#fff" stroke="#000" stroke-width="2.6" stroke-linejoin="round" paint-order="stroke fill">Confortable</text></g>
<path d="M652.6,1644 L1027.9,1545.5 M652.6,1644 L984.7,1488.9" stroke="#000" stroke-width="1.7" stroke-dasharray="13 6" fill="none"/>
<g transform="translate(802.7 1545.5) rotate(-25)"><use href="#person"/><use href="#head"/></g>
<path d="M743.5,1410.1 L823.3,1603.4" stroke="#000" stroke-width="0.8"/>
<path d="M811.9,1565.7 L824.5,1560.3 L829.7,1572.7 L816.9,1578.2" stroke="#000" stroke-width="0.8" fill="none"/>
<path d="M775.6,1491.1 H780 V1546.8 H784.5 L777.8,1560.1 L771,1546.8 H775.6 Z" fill="#0000ff"/>
<path d="M777.8,1489.5 V1493.7 H797.5 V1496.3 L806.6,1491.6 L797.5,1486.8 V1489.5 Z" fill="#ff0000"/>
<path d="M777.8,1491.6 L801.5,1550.8" stroke="#000" stroke-width="1.6" fill="none"/><path d="M805.2,1560.1 L798.7,1551.9 L804.3,1549.7 Z" fill="#000"/>
<path d="M806.4,1491.6 V1560 M777.8,1560.1 H806.4" stroke="#000" stroke-width="1.1" stroke-dasharray="3.4 2.2" fill="none"/>
<text stroke="#0000ff" stroke-width="0.45" x="746.6" y="1550.4" font-size="16.5" fill="#0000ff" font-weight="400" textLength="8.5" lengthAdjust="spacingAndGlyphs">P</text><path d="M743.5,1532.7 H764.2" stroke="#0000ff" stroke-width="1.9" fill="none"/><path d="M758.7,1529.3 L765.2,1532.7 L758.7,1536.1" stroke="#0000ff" stroke-width="1.7" fill="none" stroke-linejoin="miter"/>
<text stroke="#ff0000" stroke-width="0.45" x="812.4" y="1496" font-size="16.5" fill="#ff0000" font-weight="400" textLength="18.9" lengthAdjust="spacingAndGlyphs">F2</text><path d="M809.3,1476.6 H830.8" stroke="#ff0000" stroke-width="1.9" fill="none"/><path d="M825.3,1473.2 L831.8,1476.6 L825.3,1480" stroke="#ff0000" stroke-width="1.7" fill="none" stroke-linejoin="miter"/>
<path d="M937.7,1510.7 Q950,1536 957.5,1563.1 M933.7,1512.5 L941.7,1508.9 M953,1564.6 L962,1561.6" stroke="#000" stroke-width="1.6" fill="none"/>
<text x="954.5" y="1535" font-size="19" fill="#000" font-weight="400" textLength="14.5" lengthAdjust="spacingAndGlyphs">α</text>
<path d="M971.3,1520.5 V1527" stroke="#000" stroke-width="1.6"/>
<text x="977.6" y="1535" font-size="13.2" fill="#000" font-weight="400" textLength="153.9" lengthAdjust="spacingAndGlyphs">(Angle de pendulation)</text>
<text x="967.1" y="1579.9" font-size="13.2" fill="#000" font-weight="400" textLength="55.4" lengthAdjust="spacingAndGlyphs">Plan des</text>
<text x="967.1" y="1597.1" font-size="13.2" fill="#000" font-weight="400" textLength="26.4" lengthAdjust="spacingAndGlyphs">rails</text>
<path d="M868.6,1611 A136,136 0 0 1 877,1646.1" stroke="#000" stroke-width="1.7" fill="none"/>
<text x="886.6" y="1627.3" font-size="14.5" fill="#000" font-weight="400" textLength="75.5" lengthAdjust="spacingAndGlyphs">α (Dévers)</text>
<text x="819.5" y="1674.2" font-size="13.2" fill="#000" font-weight="400" textLength="100.6" lengthAdjust="spacingAndGlyphs">Plan horizontal</text>
</svg>
</body></html>
